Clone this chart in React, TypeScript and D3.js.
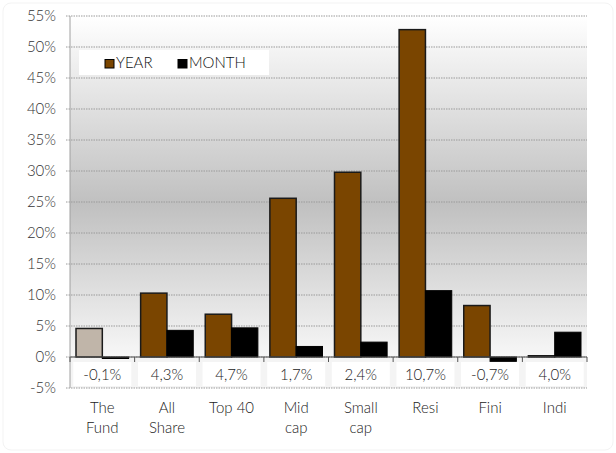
import React from "react";
import * as d3 from "d3";

const categories = ["The Fund", "All Share", "Top 40", "Mid cap", "Small cap", "Resi", "Fini", "Indi"];
const categoryLines = [["The", "Fund"], ["All", "Share"], ["Top 40"], ["Mid", "cap"], ["Small", "cap"], ["Resi"], ["Fini"], ["Indi"]];
const yearValues = [4.6, 10.3, 6.9, 25.6, 29.8, 52.8, 8.3, 0.2];
const monthValues = [-0.1, 4.3, 4.7, 1.7, 2.4, 10.7, -0.7, 4.0];
const series = ["YEAR", "MONTH"];
const yTicks = [-5, 0, 5, 10, 15, 20, 25, 30, 35, 40, 45, 50, 55];

const W = 616;
const H = 453;
const left = 70;
const right = 587;
const top = 16;
const bottom = 388;
const FONT = "Lato, 'Open Sans', sans-serif";

const YEAR_COLOR = "#7a4500";
const FUND_COLOR = "#c0b5a9";
const MONTH_COLOR = "#000000";

export default function App() {
  const y = d3.scaleLinear().domain([-5, 55]).range([bottom, top]);
  const x0 = d3.scaleBand<string>().domain(categories).range([left, right]).padding(0);
  const step = x0.bandwidth();
  const x1 = d3.scaleBand<string>().domain(series).range([6, step - 6]).padding(0);
  const bw = x1.bandwidth();
  const fmt = (v: number) => v.toFixed(1).replace(".", ",") + "%";

  return (
    <svg width={W} height={H} style={{ position: "absolute", left: 0, top: 0, display: "block", background: "#fff" }} fontFamily={FONT} fontWeight={300}>
      <defs>
        <linearGradient id="plotbg" x1="0" y1={top} x2="0" y2={y(0)} gradientUnits="userSpaceOnUse">
          <stop offset="0" stopColor="#ffffff" />
          <stop offset="0.55" stopColor="#c0c0c0" />
          <stop offset="1" stopColor="#f7f7f7" />
        </linearGradient>
      </defs>
      <rect x={3} y={3} width={W - 6} height={H - 6} rx={8} fill="#fff" stroke="#f3f3f3" />
      <rect x={left} y={top} width={right - left} height={y(0) - top} fill="url(#plotbg)" />
      <rect x={left} y={y(0)} width={right - left} height={bottom - y(0)} fill="#f4f4f4" />
      {yTicks.map((t) => (
        <line key={"g" + t} x1={left - 4} x2={right} y1={y(t)} y2={y(t)} stroke="#9a9a9a" strokeWidth={1} strokeDasharray="1.5,1" />
      ))}
      {yTicks.map((t) => (
        <text key={"t" + t} x={56} y={y(t) + 5} textAnchor="end" fontSize={15} fill="#333">
          {t + "%"}
        </text>
      ))}
      <line x1={left} x2={left} y1={top} y2={bottom} stroke="#a0a0a0" strokeWidth={1} />
      {categories.map((c, i) => {
        const cx = (x0(c) as number) + step / 2;
        return (
          <g key={"lb" + c}>
            <rect x={cx - 29} y={y(0) + 5} width={58} height={24} fill="#ffffff" />
            <text x={cx} y={y(0) + 23} textAnchor="middle" fontSize={15} fill="#222">
              {fmt(monthValues[i])}
            </text>
          </g>
        );
      })}
      {categories.map((c, i) => {
        const gx = x0(c) as number;
        const yv = yearValues[i];
        const mv = monthValues[i];
        return (
          <g key={"b" + c}>
            <rect
              x={gx + (x1("YEAR") as number)}
              y={y(Math.max(0, yv))}
              width={bw}
              height={Math.abs(y(yv) - y(0))}
              fill={i === 0 ? FUND_COLOR : YEAR_COLOR}
              stroke="#1a1a1a"
              strokeWidth={1.5}
            />
            <rect
              x={gx + (x1("MONTH") as number)}
              y={y(Math.max(0, mv))}
              width={bw}
              height={Math.max(1.5, Math.abs(y(mv) - y(0)))}
              fill={MONTH_COLOR}
              stroke="#000"
              strokeWidth={1}
            />
          </g>
        );
      })}
      <line x1={left} x2={right} y1={y(0)} y2={y(0)} stroke="#555" strokeWidth={1.2} />
      {d3.range(categories.length + 1).map((i) => (
        <line key={"tk" + i} x1={left + i * step} x2={left + i * step} y1={y(0)} y2={y(0) + 5} stroke="#555" strokeWidth={1} />
      ))}
      {categories.map((c, i) => {
        const cx = (x0(c) as number) + step / 2;
        return (
          <text key={"c" + c} x={cx} textAnchor="middle" fontSize={15} fill="#222">
            {categoryLines[i].map((ln, j) => (
              <tspan key={j} x={cx} y={413 + j * 20}>
                {ln}
              </tspan>
            ))}
          </text>
        );
      })}
      <rect x={79} y={50} width={190} height={25} fill="#ffffff" />
      <rect x={105} y={59.5} width={9} height={8.5} fill={YEAR_COLOR} stroke="#000" strokeWidth={1} />
      <text x={116} y={68} fontSize={15} fill="#111">YEAR</text>
      <rect x={178} y={59.5} width={9} height={8.5} fill={MONTH_COLOR} stroke="#000" strokeWidth={1} />
      <text x={189} y={68} fontSize={15} fill="#111">MONTH</text>
    </svg>
  );
}
